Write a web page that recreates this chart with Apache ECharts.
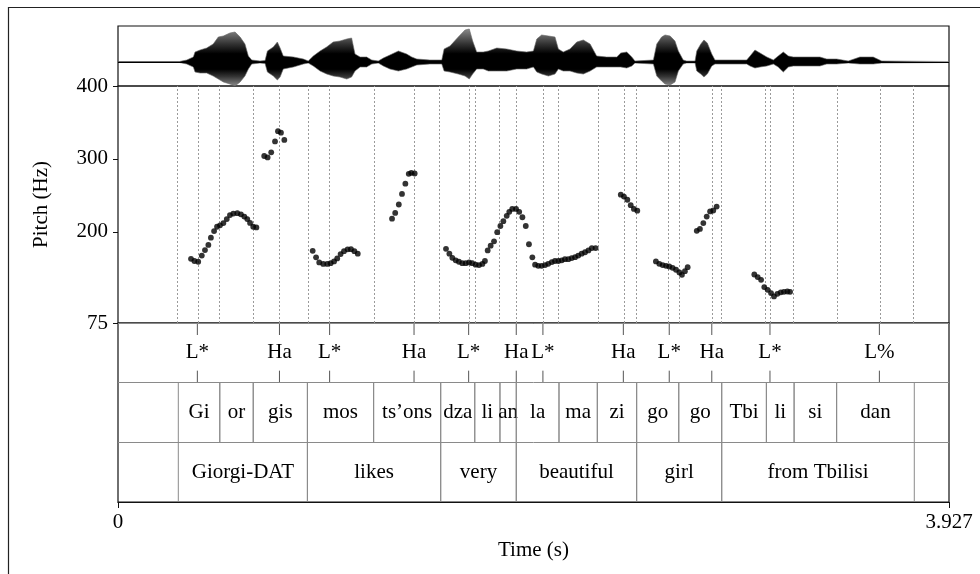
<!DOCTYPE html>
<html><head><meta charset="utf-8">
<script src="https://cdn.jsdelivr.net/npm/echarts@6/dist/echarts.min.js"></script>
<style>html,body{margin:0;padding:0;background:#fff}#c{width:980px;height:574px}</style>
</head><body><div id="c"></div>
<script>
// ---- data ----
const T_MAX = 3.927;
const timeTickValues = [0, 3.927];
const timeTickLabels = ['0', '3.927'];
const pitchTickValues = [75, 200, 300, 400];

const waveTime = [0, 0.29, 0.325, 0.356, 0.364, 0.388, 0.419, 0.450, 0.474, 0.498, 0.529, 0.553, 0.577, 0.600, 0.616, 0.632, 0.671, 0.695, 0.706, 0.734, 0.753, 0.766, 0.781, 0.829, 0.876, 0.899, 0.923, 0.955, 0.986, 1.017, 1.049, 1.081, 1.104, 1.120, 1.144, 1.175, 1.199, 1.230, 1.254, 1.285, 1.325, 1.364, 1.388, 1.412, 1.474, 1.530, 1.541, 1.569, 1.608, 1.640, 1.660, 1.676, 1.695, 1.726, 1.750, 1.790, 1.837, 1.884, 1.931, 1.963, 1.979, 2.002, 2.034, 2.065, 2.081, 2.104, 2.136, 2.168, 2.199, 2.231, 2.262, 2.309, 2.357, 2.376, 2.404, 2.428, 2.443, 2.530, 2.546, 2.569, 2.585, 2.609, 2.632, 2.648, 2.671, 2.687, 2.727, 2.735, 2.754, 2.769, 2.785, 2.806, 2.821, 2.971, 2.987, 3.010, 3.034, 3.066, 3.097, 3.120, 3.144, 3.168, 3.191, 3.317, 3.349, 3.396, 3.451, 3.506, 3.569, 3.609, 3.927];
const waveUpper = [0.5, 0.5, 2, 5, 10, 12, 14, 18, 25, 26, 29, 30, 25, 18, 6, 2, 1, 1.5, 11, 15, 20, 14, 6, 5, 3, 1, 6, 11, 15, 20, 21, 23, 24, 8, 5, 5, 2, 1, 4, 7, 11, 8, 5, 3, 2, 2, 13, 16, 25, 32, 33, 21, 10, 10, 11, 14, 13, 11, 10, 11, 23, 27, 26, 25, 13, 10, 13, 20, 22, 18, 6, 5, 5, 9, 10, 5, 1, 2, 18, 25, 27, 26, 21, 11, 2, 1, 1, 11, 18, 22, 19, 8, 2, 2, 6, 12, 9, 5, 2, 6, 10, 6, 5, 5, 3, 3, 1, 5, 5, 1, 0.5];
const waveLower = [-0.5, -0.5, -2, -5, -10, -11, -11, -14, -17, -20, -22, -24, -20, -14, -7, -2, -1, -1.5, -10, -14, -18, -15, -7, -5, -2, -1, -4, -9, -12, -14, -15, -17, -15, -9, -5, -5, -2, -1, -4, -7, -9, -7, -5, -3, -2, -2, -9, -10, -12, -14, -17, -12, -7, -7, -9, -9, -9, -7, -7, -5, -10, -12, -14, -12, -7, -9, -9, -11, -12, -9, -5, -5, -5, -5, -6, -4, -1, -2, -14, -19, -22, -23, -20, -9, -2, -1, -1, -9, -12, -15, -12, -4, -2, -2, -4, -6, -5, -4, -2, -5, -10, -5, -4, -4, -2, -2, -1, -2, -2, -1, -0.5];

const pitchTime = [
  0.345, 0.361, 0.379, 0.396, 0.411, 0.427, 0.439, 0.454, 0.468, 0.482, 0.498, 0.514, 0.529, 0.545, 0.564, 0.581, 0.597, 0.611, 0.624, 0.639, 0.654,
  0.691, 0.707, 0.724, 0.742, 0.756, 0.770, 0.786,
  0.920, 0.936, 0.951, 0.970, 0.989, 1.005, 1.021, 1.036, 1.052, 1.068, 1.085, 1.101, 1.117, 1.133,
  1.295, 1.310, 1.327, 1.342, 1.358, 1.374, 1.386, 1.402,
  1.550, 1.566, 1.580, 1.596, 1.611, 1.627, 1.643, 1.659, 1.674, 1.690, 1.706, 1.722, 1.734, 1.747, 1.761, 1.777, 1.792, 1.807, 1.821, 1.837, 1.849, 1.863, 1.881, 1.896, 1.911, 1.927, 1.942, 1.958, 1.971, 1.986, 2.002, 2.018, 2.033, 2.050, 2.065, 2.081, 2.097, 2.112, 2.128, 2.144, 2.160, 2.175, 2.191, 2.207, 2.223, 2.239, 2.257,
  2.376, 2.391, 2.407, 2.423, 2.438, 2.454,
  2.542, 2.558, 2.574, 2.590, 2.605, 2.621, 2.637, 2.653, 2.665, 2.679, 2.692,
  2.735, 2.750, 2.766, 2.782, 2.798, 2.813, 2.829,
  3.007, 3.023, 3.039, 3.054, 3.070, 3.086, 3.100, 3.116, 3.132, 3.147, 3.163, 3.176
];
const pitchHz = [
  163, 160, 159, 167.5, 175, 182, 192, 201, 207, 209, 212, 217.5, 223, 225, 225.6, 224, 221, 217.5, 212.3, 207, 206,
  304, 302, 309, 324, 338, 336, 326,
  174, 165, 158, 156, 156, 157, 159.4, 163.5, 169.5, 173.5, 176, 176.3, 173.5, 170,
  218, 226, 237.5, 252, 266, 279.5, 281, 280,
  176.7, 170, 164.4, 161, 159, 157, 157, 158, 157, 155, 154.5, 156, 160, 174.5, 181, 187, 199.6, 208, 214.6, 222, 227.4, 231.5, 231.5, 227.4, 220, 208, 183, 165, 155, 153.4, 153.4, 154.5, 156.2, 158.5, 160, 160, 161, 162.5, 162.5, 164, 165.3, 167.5, 170, 172, 174.5, 177.7, 177.7,
  251, 248.4, 244, 236.6, 231.5, 229,
  159.4, 156.2, 154.5, 153.4, 152.5, 150.7, 148, 144.4, 141, 146, 151.6,
  201.4, 204, 212, 221, 228, 229.3, 234.7,
  141.5, 138, 134.2, 124.2, 120.5, 116, 111.4, 115, 117, 117.8, 118.2, 117.8
];

const toneTime = [0.375, 0.763, 1.000, 1.399, 1.657, 1.882, 2.008, 2.388, 2.605, 2.806, 3.081, 3.598];
const toneLabel = ['L*', 'Ha', 'L*', 'Ha', 'L*', 'Ha', 'L*', 'Ha', 'L*', 'Ha', 'L*', 'L%'];

const syllableStart = [0.285, 0.481, 0.639, 0.895, 1.208, 1.525, 1.686, 1.805, 1.882, 2.084, 2.265, 2.451, 2.650, 2.853, 3.064, 3.195, 3.396];
const syllableEnd   = [0.481, 0.639, 0.895, 1.208, 1.525, 1.686, 1.805, 1.882, 2.084, 2.265, 2.451, 2.650, 2.853, 3.064, 3.195, 3.396, 3.763];
const syllableLabel = ['Gi', 'or', 'gis', 'mos', 'ts\u2019ons', 'dza', 'li', 'an', 'la', 'ma', 'zi', 'go', 'go', 'Tbi', 'li', 'si', 'dan'];

const wordStart = [0.285, 0.895, 1.525, 1.882, 2.451, 2.853];
const wordEnd   = [0.895, 1.525, 1.882, 2.451, 2.853, 3.763];
const wordLabel = ['Giorgi-DAT', 'likes', 'very', 'beautiful', 'girl', 'from Tbilisi'];

// ---- chart ----
const FONT = '"Liberation Serif", "Times New Roman", serif';
const FS = 21;
const chart = echarts.init(document.getElementById('c'), null, {renderer: 'canvas'});

const boundarySet = Array.from(new Set(syllableStart.concat(syllableEnd, toneTime))).sort((a, b) => a - b);

function tierRender(startArr, endArr, labelArr, row) {
  return function (params, api) {
    const i = params.dataIndex;
    const a0 = api.coord([startArr[i], row]);
    const a1 = api.coord([startArr[i], row + 1]);
    const b0 = api.coord([endArr[i], row]);
    const b1 = api.coord([endArr[i], row + 1]);
    const lineStyle = {stroke: '#8a8a8a', lineWidth: 1};
    return {
      type: 'group',
      children: [
        {type: 'line', shape: {x1: a0[0], y1: a0[1], x2: a1[0], y2: a1[1]}, style: lineStyle},
        {type: 'line', shape: {x1: b0[0], y1: b0[1], x2: b1[0], y2: b1[1]}, style: lineStyle},
        {type: 'text', style: {x: (a0[0] + b0[0]) / 2, y: (a0[1] + a1[1]) / 2, text: labelArr[i],
          font: FS + 'px ' + FONT, fill: '#000', align: 'center', verticalAlign: 'middle'}}
      ]
    };
  };
}

const option = {
  animation: false,
  backgroundColor: '#fff',
  graphic: [{type: 'rect', shape: {x: 8.5, y: 7.5, width: 1000, height: 600},
    style: {fill: 'none', stroke: '#222', lineWidth: 1.2}, silent: true}],
  grid: [
    {left: 118, top: 26, width: 831, height: 60, show: true, borderColor: '#111', borderWidth: 1.2, backgroundColor: 'transparent'},
    {left: 118, top: 86, width: 831, height: 237, show: true, borderColor: '#111', borderWidth: 1.2, backgroundColor: 'transparent'},
    {left: 118, top: 323, width: 831, height: 179, show: true, borderColor: '#111', borderWidth: 1.2, backgroundColor: 'transparent'}
  ],
  xAxis: [
    {gridIndex: 0, type: 'value', min: 0, max: T_MAX, show: false},
    {gridIndex: 1, type: 'value', min: 0, max: T_MAX, show: false},
    {gridIndex: 2, type: 'value', min: 0, max: T_MAX, interval: T_MAX,
      axisLine: {show: true, onZero: false, lineStyle: {color: '#111', width: 1.2}},
      axisTick: {show: true, length: 6, lineStyle: {color: '#111'}},
      splitLine: {show: false},
      axisLabel: {margin: 10, color: '#000', fontFamily: FONT, fontSize: FS,
        formatter: v => { const k = timeTickValues.findIndex(t => Math.abs(t - v) < 1e-6); return k >= 0 ? timeTickLabels[k] : ''; }},
      name: 'Time (s)', nameLocation: 'middle', nameGap: 38,
      nameTextStyle: {color: '#000', fontFamily: FONT, fontSize: FS}}
  ],
  yAxis: [
    {gridIndex: 0, type: 'value', min: -24, max: 36, show: false},
    {gridIndex: 1, type: 'value', min: 75, max: 400,
      axisLine: {show: false},
      axisTick: {show: true, length: 5, customValues: pitchTickValues, lineStyle: {color: '#111'}},
      axisLabel: {margin: 10, customValues: pitchTickValues, color: '#000', fontFamily: FONT, fontSize: FS},
      splitLine: {show: false},
      name: 'Pitch (Hz)', nameLocation: 'middle', nameRotate: 90, nameGap: 66,
      nameTextStyle: {color: '#000', fontFamily: FONT, fontSize: FS}},
    {gridIndex: 2, type: 'value', min: 0, max: 3, inverse: true, show: false}
  ],
  series: [
    {type: 'line', xAxisIndex: 0, yAxisIndex: 0, data: waveTime.map((t, i) => [t, waveUpper[i]]),
      showSymbol: false, symbol: 'none', lineStyle: {color: '#666', width: 0.6},
      areaStyle: {opacity: 1, color: new echarts.graphic.LinearGradient(0, 0, 0, 1, [
        {offset: 0, color: '#8a8a8a'}, {offset: 0.45, color: '#333'}, {offset: 0.75, color: '#000'}, {offset: 1, color: '#000'}])},
      markLine: {silent: true, symbol: ['none', 'none'], label: {show: false},
        lineStyle: {color: '#000', width: 1, type: 'solid'}, data: [{yAxis: 0}]}},
    {type: 'line', xAxisIndex: 0, yAxisIndex: 0, data: waveTime.map((t, i) => [t, waveLower[i]]),
      showSymbol: false, symbol: 'none', lineStyle: {color: '#666', width: 0.6},
      areaStyle: {opacity: 1, color: new echarts.graphic.LinearGradient(0, 0, 0, 1, [
        {offset: 0, color: '#000'}, {offset: 0.3, color: '#000'}, {offset: 0.6, color: '#333'}, {offset: 1, color: '#8a8a8a'}])}},
    {type: 'scatter', xAxisIndex: 1, yAxisIndex: 1, data: pitchTime.map((t, i) => [t, pitchHz[i]]),
      symbol: 'circle', symbolSize: 5.8, itemStyle: {color: '#000'}, z: 5,
      markLine: {silent: true, symbol: ['none', 'none'], label: {show: false},
        lineStyle: {color: '#9a9a9a', width: 1, type: [2, 2]}, data: boundarySet.map(t => ({xAxis: t}))}},
    {type: 'custom', xAxisIndex: 2, yAxisIndex: 2, data: toneTime.map(t => [t, 0.5]),
      renderItem: function (params, api) {
        const i = params.dataIndex;
        const top = api.coord([toneTime[i], 0]);
        const bot = api.coord([toneTime[i], 1]);
        const st = {stroke: '#555', lineWidth: 1};
        return {type: 'group', children: [
          {type: 'line', shape: {x1: top[0], y1: top[1], x2: top[0], y2: top[1] + 12}, style: st},
          {type: 'line', shape: {x1: bot[0], y1: bot[1] - 12, x2: bot[0], y2: bot[1]}, style: st},
          {type: 'text', style: {x: top[0], y: (top[1] + bot[1]) / 2, text: toneLabel[i],
            font: FS + 'px ' + FONT, fill: '#000', align: 'center', verticalAlign: 'middle'}}
        ]};
      },
      markLine: {silent: true, symbol: ['none', 'none'], label: {show: false},
        lineStyle: {color: '#8a8a8a', width: 1, type: 'solid'}, data: [{yAxis: 0}, {yAxis: 1}, {yAxis: 2}]}},
    {type: 'custom', xAxisIndex: 2, yAxisIndex: 2, data: syllableStart.map((s, i) => [s, syllableEnd[i]]),
      renderItem: tierRender(syllableStart, syllableEnd, syllableLabel, 1)},
    {type: 'custom', xAxisIndex: 2, yAxisIndex: 2, data: wordStart.map((s, i) => [s, wordEnd[i]]),
      renderItem: tierRender(wordStart, wordEnd, wordLabel, 2)}
  ]
};
chart.setOption(option);
</script></body></html>
